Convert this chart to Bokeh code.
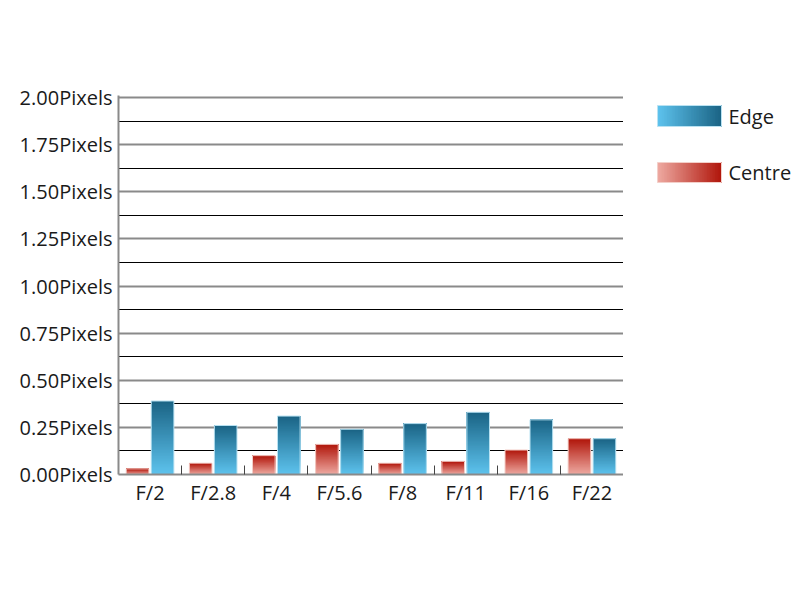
from bokeh.plotting import figure
from bokeh.layouts import row
from bokeh.models import FixedTicker, Range1d
from bokeh.core.properties import value
from bokeh.embed import file_html
from bokeh.resources import INLINE

categories = ["F/2", "F/2.8", "F/4", "F/5.6", "F/8", "F/11", "F/16", "F/22"]
centre = [0.03, 0.06, 0.10, 0.16, 0.06, 0.07, 0.13, 0.19]
edge = [0.39, 0.26, 0.31, 0.24, 0.27, 0.33, 0.29, 0.19]
y_ticks = [0.0, 0.25, 0.5, 0.75, 1.0, 1.25, 1.5, 1.75, 2.0]
y_minor = [0.125, 0.375, 0.625, 0.875, 1.125, 1.375, 1.625, 1.875]
y_tick_labels = ["0.00Pixels", "0.25Pixels", "0.50Pixels", "0.75Pixels", "1.00Pixels",
                 "1.25Pixels", "1.50Pixels", "1.75Pixels", "2.00Pixels"]
series_names = ["Edge", "Centre"]

FONT = "Open Sans"
FS = "20px"

EDGE_TOP, EDGE_BOT = (26, 99, 132), (94, 195, 238)
CEN_TOP, CEN_BOT = (176, 21, 10), (238, 170, 162)

TOP, LEFT = 95, 118
PW, PH = 623, 592
FRAME_BOTTOM = 474


def hexc(c):
    return "#%02x%02x%02x" % tuple(int(round(v)) for v in c)


def lerp(a, b, t):
    return hexc(tuple(a[i] + (b[i] - a[i]) * t for i in range(3)))


N = 48


def gradient_bars(p, xs, vals, width, bot, top, outline):
    L, R, B, T, C = [], [], [], [], []
    for k in range(N):
        for x, v in zip(xs, vals):
            L.append(x - width / 2)
            R.append(x + width / 2)
            B.append(v * k / N)
            T.append(v)
            C.append(lerp(bot, top, (k + 0.5) / N))
    p.quad(left=L, right=R, bottom=B, top=T, fill_color=C, line_color=None)
    p.quad(left=[x - width / 2 for x in xs], right=[x + width / 2 for x in xs],
           bottom=[0] * len(xs), top=vals, fill_color=None, line_color=outline, line_width=1)


# small headroom so the 2.00 grid line is not clipped (2 px at ~188.5 px/unit)
y_top = 2.0 + 2 / 188.5
p = figure(width=PW, height=PH, x_range=Range1d(0, len(categories)), y_range=Range1d(0, y_top),
           output_backend="svg", toolbar_location=None,
           min_border_left=LEFT, min_border_right=0, min_border_top=TOP,
           min_border_bottom=PH - FRAME_BOTTOM)
p.outline_line_color = None

xs = [i + 0.5 for i in range(len(categories))]
W = 0.358
gradient_bars(p, [x - 0.198 for x in xs], centre, W, CEN_BOT, CEN_TOP, "#f3cfc9")
gradient_bars(p, [x + 0.198 for x in xs], edge, W, EDGE_BOT, EDGE_TOP, "#b9e2f2")

# grid
p.xgrid.visible = False
p.ygrid.ticker = FixedTicker(ticks=y_ticks, minor_ticks=y_minor)
p.ygrid.grid_line_color = "#8a8a8a"
p.ygrid.grid_line_width = 2
p.ygrid.minor_grid_line_color = "black"
p.ygrid.minor_grid_line_width = 1
p.ygrid.level = "underlay"

# y axis
ya = p.yaxis[0]
ya.ticker = FixedTicker(ticks=y_ticks)
ya.major_label_overrides = {t: s for t, s in zip(y_ticks, y_tick_labels)}
ya.axis_line_color = "#8a8a8a"
ya.axis_line_width = 2
ya.major_tick_line_color = None
ya.minor_tick_line_color = None
ya.major_tick_out = 0
ya.major_tick_in = 0
ya.major_label_standoff = 6
ya.major_label_text_font = FONT
ya.major_label_text_font_size = FS
ya.major_label_text_color = "#1a1a1a"

# x axis
xa = p.xaxis[0]
xa.ticker = FixedTicker(ticks=xs, minor_ticks=list(range(1, len(categories) + 1)))
xa.major_label_overrides = {x: c for x, c in zip(xs, categories)}
xa.axis_line_color = "#8a8a8a"
xa.axis_line_width = 2
xa.major_tick_line_color = None
xa.major_tick_out = 0
xa.major_tick_in = 0
xa.minor_tick_line_color = "#444444"
xa.minor_tick_line_width = 1
xa.minor_tick_in = 9
xa.minor_tick_out = 0
xa.major_label_standoff = 4
xa.major_label_text_font = FONT
xa.major_label_text_font_size = FS
xa.major_label_text_color = "#1a1a1a"

# legend as separate panel; its frame is aligned with the main frame
LW = 792 - PW
lf = figure(width=LW, height=PH, x_range=Range1d(PW, PW + LW), y_range=Range1d(FRAME_BOTTOM, TOP),
            output_backend="svg", toolbar_location=None,
            min_border_left=0, min_border_right=0, min_border_top=TOP,
            min_border_bottom=PH - FRAME_BOTTOM)
lf.axis.visible = False
lf.grid.visible = False
lf.outline_line_color = None

legend_specs = [(series_names[0], EDGE_BOT, EDGE_TOP, "#b9e2f2", 105, 126),
                (series_names[1], CEN_BOT, CEN_TOP, "#f3cfc9", 162, 182)]
M = 40
for name, c0, c1, oc, y0, y1 in legend_specs:
    x0, x1 = 657, 721
    L = [x0 + (x1 - x0) * k / M for k in range(M)]
    R = [x1] * M
    C = [lerp(c0, c1, (k + 0.5) / M) for k in range(M)]
    lf.quad(left=L, right=R, bottom=[y1] * M, top=[y0] * M, fill_color=C, line_color=None)
    lf.quad(left=[x0], right=[x1], bottom=[y1], top=[y0], fill_color=None, line_color=oc, line_width=1)
    lf.text(x=[x1 + 7], y=[(y0 + y1) / 2], text=[name], text_font=value(FONT),
            text_font_size=FS, text_color="#1a1a1a", text_baseline="middle", text_align="left")

layout = row(p, lf)
open("out.html", "w").write(file_html(layout, INLINE))
